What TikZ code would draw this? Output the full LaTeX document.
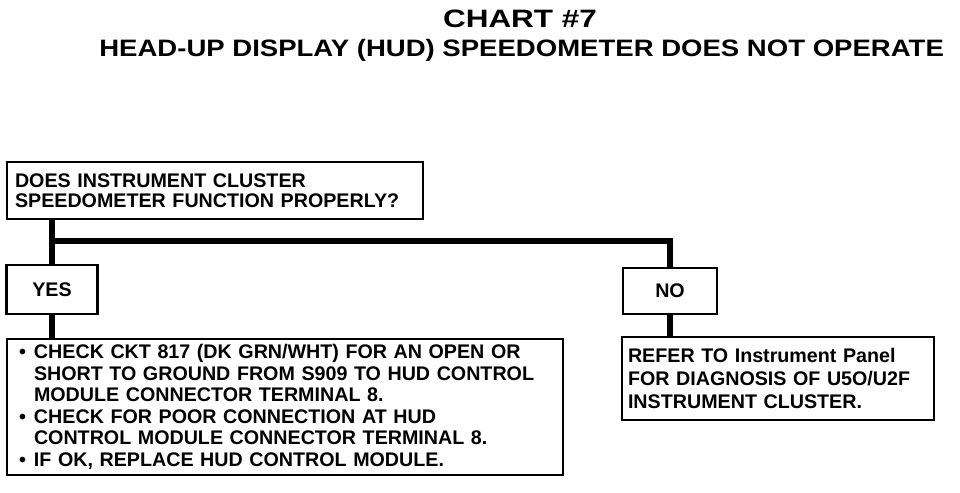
\documentclass[tikz,border=0pt]{standalone}
\usepackage{fontspec}
\setmainfont{Liberation Sans}
\newcommand{\bul}{\makebox[0.375cm][l]{\textbullet}}
\newcommand{\ind}{\hspace*{0.375cm}}

\begin{document}
\begin{tikzpicture}[
  box/.style={draw,line width=2pt,inner ysep=0pt,align=left,font=\bfseries\fontsize{14}{15.3}\selectfont},
  conn/.style={line width=4.3pt}]
  \path[use as bounding box] (0,0) rectangle (24,12.3);
  \node (title) at (13,11.6) [anchor=base,font=\bfseries\fontsize{17.9}{20}\selectfont] {\scalebox{1.25}[1]{CHART \#7}};
  \node (subtitle) at (13.04,10.875) [anchor=base,font=\bfseries\fontsize{16.9}{19}\selectfont] {\scalebox{1.159}[1]{HEAD-UP DISPLAY (HUD) SPEEDOMETER DOES NOT OPERATE}};
  \node (question) at (5.375,7.5375) [box,text width=10cm,inner xsep=0.2cm,minimum height=1.425cm,font=\bfseries\fontsize{14}{13.9}\selectfont] {DOES INSTRUMENT CLUSTER\\SPEEDOMETER FUNCTION PROPERLY?};
  \node (yes) at (1.3,5.0625) [box,align=center,minimum width=2.275cm,minimum height=1.225cm] {YES};
  \node (no) at (16.75,5.025) [box,align=center,minimum width=2.35cm,minimum height=1.15cm] {NO};
  \node (checks) at (7.125,2.125) [box,text width=13.3cm,inner xsep=0.3cm,minimum height=3.4cm] {\bul CHECK CKT 817 (DK GRN/WHT) FOR AN OPEN OR\\
    \ind SHORT TO GROUND FROM S909 TO HUD CONTROL\\
    \ind MODULE CONNECTOR TERMINAL 8.\\
    \bul CHECK FOR POOR CONNECTION AT HUD\\
    \ind CONTROL MODULE CONNECTOR TERMINAL 8.\\
    \bul IF OK, REPLACE HUD CONTROL MODULE.};
  \node (refer) at (19.45,2.8375) [box,text width=7.5cm,inner xsep=0.15cm,minimum height=2.075cm,font=\bfseries\fontsize{14}{16.4}\selectfont] {REFER TO Instrument Panel\\FOR DIAGNOSIS OF U5O/U2F\\INSTRUMENT CLUSTER.};
  \coordinate (split) at (1.3,6.275);
  \draw[conn] (yes.north |- question.south) -- (yes.north);
  \draw[conn] (split) -| (no.north);
  \draw[conn] (yes.south) -- (yes.south |- checks.north);
  \draw[conn] (no.south) -- (no.south |- refer.north);
\end{tikzpicture}
\end{document}
